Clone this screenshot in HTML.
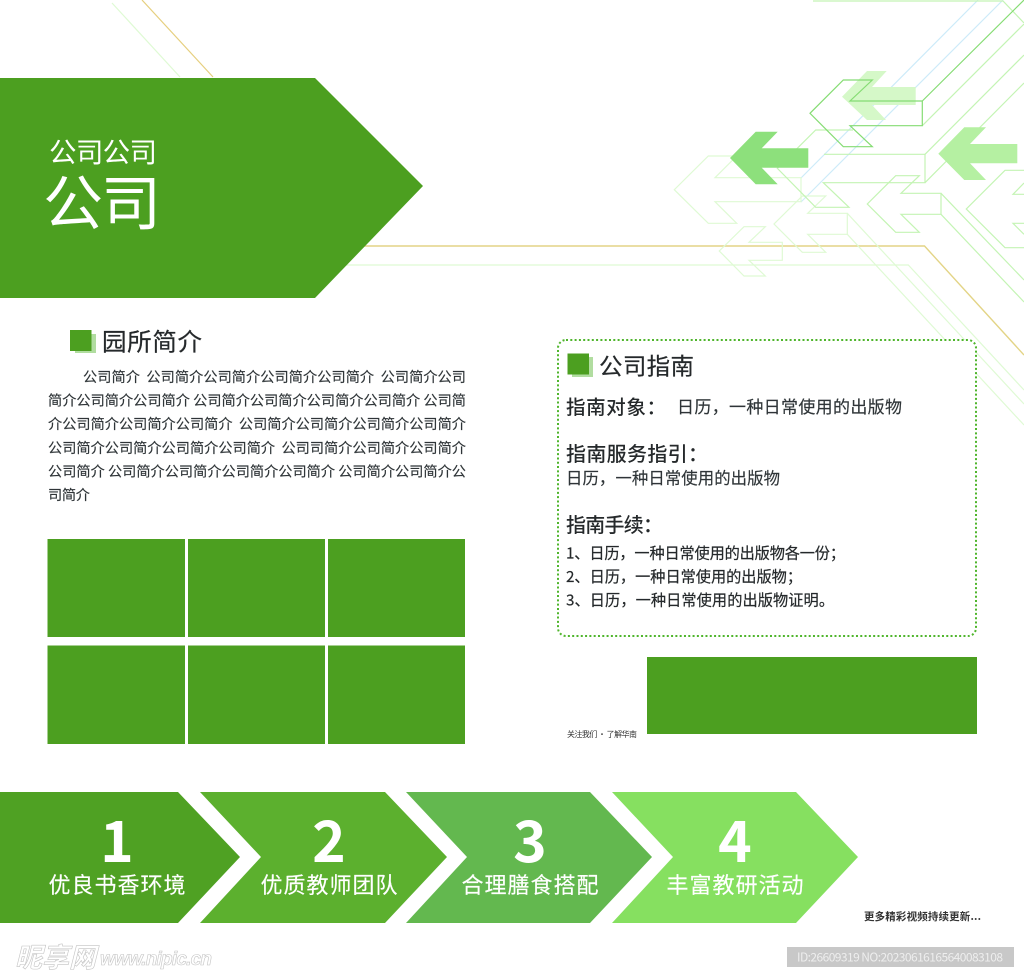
<!DOCTYPE html>
<html><head><meta charset="utf-8"><style>
html,body{margin:0;padding:0;background:#fff}
svg{display:block}
text{font-family:"Liberation Sans","Noto Sans CJK SC",sans-serif;white-space:pre}
.c{font-family:"Noto Sans CJK SC","Liberation Sans",sans-serif}
.b{fill:#2f3538;font-size:14.2px;stroke:#2f3538;stroke-width:.15}
.g{fill:#25292b}
.m{stroke:#25292b;stroke-width:.2}
</style></head><body>
<svg width="1024" height="977" viewBox="0 0 1024 977" xmlns="http://www.w3.org/2000/svg">
<rect width="1024" height="977" fill="#fff"/>
<!-- background lines -->
<g fill="none" stroke-width="1.2">
<path d="M112 3L180 77" stroke="#dffad4"/>
<path d="M142 0L213 77" stroke="#e6cf7e"/>
<path d="M340 246H924.5L1024 355" stroke="#e3d486" stroke-width="1.4"/>
<path d="M340 265H908.3L1024 390" stroke="#dffad4"/>
<path d="M978 0L801 178M1003 0L801 202" stroke="#cdebf9"/>
<g stroke="#dffad4">
<path d="M736.7 156H708.3L674.3 189.7L708.3 223.3H736.7L715 201.7H801V177.7H715Z"/>
<path d="M825.7 196H802.3L774 224L802.3 252.3H825.7L807.7 234.3H847.3V213.3H807.7Z"/>
<path d="M765.3 226.7H744L719.3 251L744 276H765.3L749 260.3H782.3V242.3H749Z"/>
<path d="M847.3 213.3L1024 404M847.3 234.3L1024 425"/>
</g>
<g stroke="#c4f4b4">
<path d="M853 130H815.7L777.3 168.3L815.7 207.3H849L823.3 182.7H925V154.3H824"/>
<path d="M925 154.3L1024 55M925 182.7L1024 83"/>
<path d="M919.3 175.7H895.7L867.3 204L895.7 232.3H919.3L901 214.3H941V193.3H901Z"/>
<path d="M941 193.3L1024 280M941 214.3L1024 302"/>
<path d="M1024 170.3H1005L966.3 209L1005 247.7H1024M1024 183L1013 194.3H1024M1024 234.3L1013 223.3H1024"/>
<path d="M813 1H1003L1024 23M922.3 125.7L1024 24"/>
</g>
</g>
<polygon points="886.7,71 867,71 842,96.7 867,120 886,120 872,105 915.7,105 915.7,87 872,87" fill="#d5f8c8"/>
<polygon points="777.7,131.7 755.7,131.7 730,158 755.7,184.3 777.7,184.3 761.7,167.7 808.3,167.7 808.3,148.3 761.7,148.3" fill="#8de07c"/>
<polygon points="986,127.3 964.3,127.3 938.3,153.7 964.3,180 986,180 970,163.3 1017.3,163.3 1017.3,144 970,144" fill="#b5f0a2"/>
<path d="M872.3 80H843.3L810 113.3L843.3 146.7H872.3L850 125.7H922.3V101H850ZM922.3 101L1024 0" fill="none" stroke="#85dc73" stroke-width="1.2"/>
<!-- header -->
<polygon points="0,78 315,78 423,186 315,298 0,298" fill="#4c9f20"/>
<text class="c" x="49" y="162" font-size="27.5" fill="#fff" textLength="108">公司公司</text>
<text class="c" x="43" y="225" font-size="60" fill="#fff" textLength="118">公司</text>
<!-- left section -->
<rect x="75" y="334" width="21" height="19" fill="#b1dda0"/>
<rect x="70" y="330" width="21.5" height="21" fill="#4c9f20"/>
<text class="c g m" x="102" y="350.5" font-size="24.5" textLength="100">园所简介</text>
<g class="c">
<text class="c b" x="83" y="382" textLength="383">公司简介  公司简介公司简介公司简介公司简介  公司简介公司</text>
<text class="c b" x="48" y="405.5" textLength="418">简介公司简介公司简介 公司简介公司简介公司简介公司简介 公司简</text>
<text class="c b" x="48" y="429" textLength="418">介公司简介公司简介公司简介  公司简介公司简介公司简介公司简介</text>
<text class="c b" x="48" y="453" textLength="418">公司简介公司简介公司简介公司简介  公司司简介公司简介公司简介</text>
<text class="c b" x="48" y="476.5" textLength="418">公司简介 公司简介公司简介公司简介公司简介 公司简介公司简介公</text>
<text class="c b" x="48" y="500" textLength="42">司简介</text>
</g>
<g fill="#4c9f20">
<rect x="47.5" y="539" width="137.5" height="98"/><rect x="188" y="539" width="137" height="98"/><rect x="328" y="539" width="137" height="98"/>
<rect x="47.5" y="645.5" width="137.5" height="98.5"/><rect x="188" y="645.5" width="137" height="98.5"/><rect x="328" y="645.5" width="137" height="98.5"/>
<rect x="647" y="657" width="330" height="77"/>
</g>
<!-- right card -->
<rect x="558" y="340" width="418" height="296" rx="8" fill="#fff" stroke="#4fb52c" stroke-width="2" stroke-dasharray="2 2.3"/>
<rect x="572" y="357" width="21" height="20" fill="#b1dda0"/>
<rect x="567.5" y="353.5" width="21.5" height="21" fill="#4c9f20"/>
<text class="c g m" x="599" y="374.5" font-size="23.5" textLength="95">公司指南</text>
<text class="c g" x="566" y="414" font-size="19.5" font-weight="500" textLength="100">指南对象：</text>
<text class="c b" x="677" y="413" style="font-size:17px" textLength="225">日历，一种日常使用的出版物</text>
<text class="c g" x="566" y="461" font-size="20" font-weight="500" textLength="142">指南服务指引：</text>
<text class="c b" x="566" y="484" style="font-size:16.4px" textLength="214">日历，一种日常使用的出版物</text>
<text class="c g" x="566" y="532" font-size="20" font-weight="500" textLength="97">指南手续：</text>
<text class="c g m" x="566" y="558.5" font-size="15.2" textLength="279">1、日历，一种日常使用的出版物各一份；</text>
<text class="c g m" x="566" y="582" font-size="15.2" textLength="236">2、日历，一种日常使用的出版物；</text>
<text class="c g m" x="566" y="605.5" font-size="15.2" textLength="268">3、日历，一种日常使用的出版物证明。</text>
<text class="c" x="567" y="737" font-size="8" fill="#333" textLength="70">关注我们 · 了解华南</text>
<!-- chevrons -->
<polygon points="0,792 178,792 240,857 178,923 0,923" fill="#4fa123"/>
<polygon points="200,792 385,792 447,857 385,923 200,923 261,857" fill="#5cb02e"/>
<polygon points="406,792 590,792 652,857 590,923 406,923 467,857" fill="#63b84f"/>
<polygon points="612,792 796,792 858,857 796,923 612,923 673,857" fill="#86e060"/>
<g fill="#fff" font-weight="700" font-size="57" text-anchor="middle">
<text class="c" x="117" y="862">1</text>
<text class="c" x="329" y="862">2</text>
<text class="c" x="530" y="862">3</text>
<text class="c" x="735" y="862">4</text>
</g>
<g fill="#fff" font-size="22" stroke="#fff" stroke-width=".15">
<text class="c" x="48.500" y="893" textLength="137">优良书香环境</text>
<text class="c" x="260.500" y="893" textLength="137">优质教师团队</text>
<text class="c" x="461.500" y="893" textLength="137">合理膳食搭配</text>
<text class="c" x="666.500" y="893" textLength="137">丰富教研活动</text>
</g>
<text class="c" x="864" y="920" font-size="10.5" font-weight="700" fill="#333" textLength="117">更多精彩视频持续更新...</text>
<!-- watermark -->
<rect x="787" y="947" width="227" height="20" fill="#c8c8c8"/>
<text class="c" x="797" y="961.500" font-size="12" fill="#eeeeee" textLength="206">ID:26609319 NO:20230616165640083108</text>
<g fill="#fff" stroke="#c4c4c4" stroke-width="0.6">
<text class="c" x="15" y="967" font-size="27" font-weight="700" font-style="italic" textLength="81">昵享网</text>
<text x="100" y="965" font-size="19" font-weight="700" font-style="italic" textLength="112">www.nipic.cn</text>
</g>
</svg>
</body></html>
